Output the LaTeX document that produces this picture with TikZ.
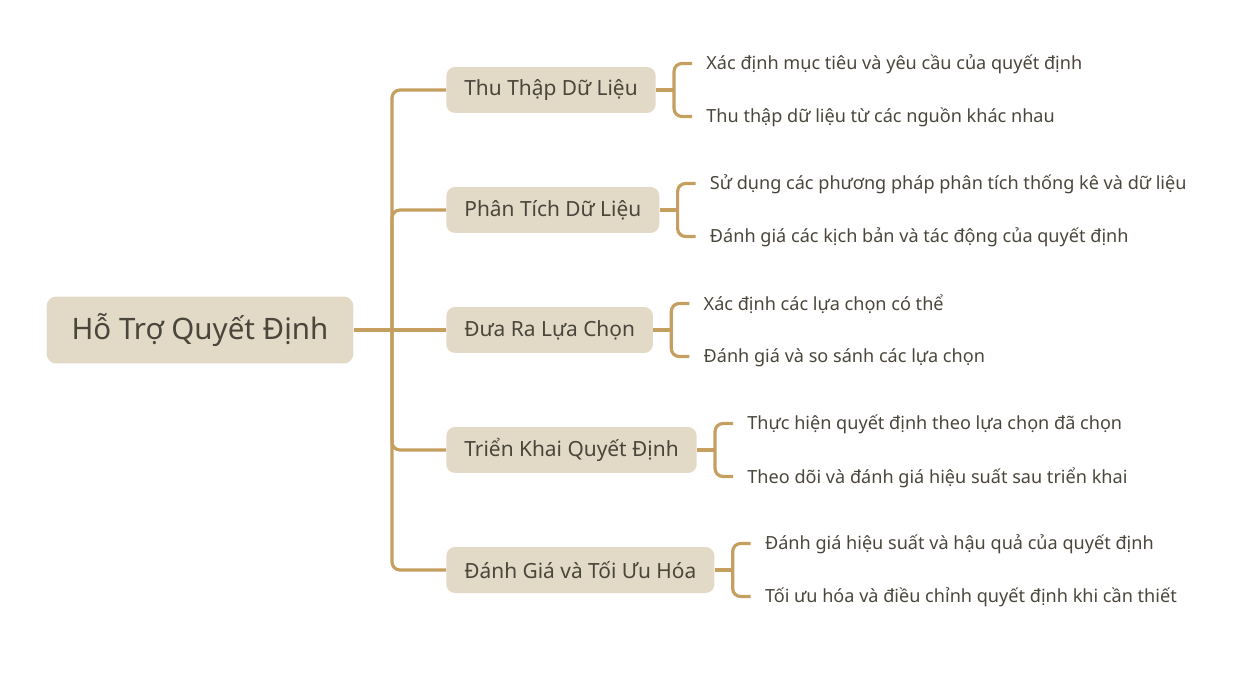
\documentclass[tikz,border=0pt]{standalone}
\usepackage{fontspec}
\setmainfont{Noto Sans}
\usetikzlibrary{positioning,calc}
\definecolor{boxfill}{HTML}{E3D9C7}
\definecolor{linecol}{HTML}{C49F60}
\definecolor{txtcol}{HTML}{4A463B}
\tikzset{
	conn/.style={draw=linecol, line width=1.8pt, rounded corners=4.5pt},
	rootbox/.style={fill=boxfill, rounded corners=5.5pt, text=txtcol, inner xsep=0.5cm,
		minimum height=1.34cm, font=\fontsize{16.8}{19}\selectfont},
	topicbox/.style={fill=boxfill, rounded corners=5pt, text=txtcol, inner xsep=0.36cm,
		minimum height=0.92cm, anchor=west, font=\fontsize{11.9}{13}\selectfont},
	leaf/.style={text=txtcol, inner sep=0pt, anchor=west, font=\fontsize{10.3}{12}\selectfont}
}
\begin{document}
\begin{tikzpicture}[x=0.02cm, y=-0.02cm]
		\useasboundingbox (0,0) rectangle (1246,675);

		% centre
		\node[rootbox] (root) at (200,330) {Hỗ Trợ Quyết Định};
		\coordinate (trunk) at (392,330);

		% topics
		\node[topicbox] (t1) at (446,90) {Thu Thập Dữ Liệu};
		\node[topicbox] (t2) at (446,210) {Phân Tích Dữ Liệu};
		\node[topicbox] (t3) at (446,330) {Đưa Ra Lựa Chọn};
		\node[topicbox] (t4) at (446,450) {Triển Khai Quyết Định};
		\node[topicbox] (t5) at (446,570) {Đánh Giá và Tối Ưu Hóa};

		\draw[conn] (root.east) -- (trunk);
		\draw[conn] (trunk) |- (t1.west);
		\draw[conn] (trunk) |- (t2.west);
		\draw[conn] (trunk) -- (t3.west);
		\draw[conn] (trunk) |- (t4.west);
		\draw[conn] (trunk) |- (t5.west);

		% leaves
		\node[leaf] (l11) at ($(t1.east)+(50,-25.5)$) {Xác định mục tiêu và yêu cầu của quyết định};
		\node[leaf] (l12) at ($(t1.east)+(50,27.5)$) {Thu thập dữ liệu từ các nguồn khác nhau};
		\node[leaf] (l21) at ($(t2.east)+(50,-25.5)$) {Sử dụng các phương pháp phân tích thống kê và dữ liệu};
		\node[leaf] (l22) at ($(t2.east)+(50,27.5)$) {Đánh giá các kịch bản và tác động của quyết định};
		\node[leaf] (l31) at ($(t3.east)+(50,-25.5)$) {Xác định các lựa chọn có thể};
		\node[leaf] (l32) at ($(t3.east)+(50,27.5)$) {Đánh giá và so sánh các lựa chọn};
		\node[leaf] (l41) at ($(t4.east)+(50,-25.5)$) {Thực hiện quyết định theo lựa chọn đã chọn};
		\node[leaf] (l42) at ($(t4.east)+(50,27.5)$) {Theo dõi và đánh giá hiệu suất sau triển khai};
		\node[leaf] (l51) at ($(t5.east)+(50,-25.5)$) {Đánh giá hiệu suất và hậu quả của quyết định};
		\node[leaf] (l52) at ($(t5.east)+(50,27.5)$) {Tối ưu hóa và điều chỉnh quyết định khi cần thiết};

		% brackets
		\foreach \t in {1,...,5} {
			\draw[conn] (t\t.east) -- ++(18,0) coordinate (k\t);
			\draw[conn] ([xshift=-0.28cm,yshift=0.02cm]l\t1.west) -| (k\t) |- ([xshift=-0.28cm,yshift=0.02cm]l\t2.west);
		}
	\end{tikzpicture}
\end{document}
